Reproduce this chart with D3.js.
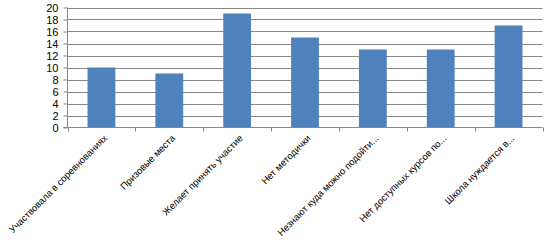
<!DOCTYPE html>
<html><head><meta charset="utf-8">
<script src="https://cdn.jsdelivr.net/npm/d3@7"></script>
<style>body{margin:0;background:#fff}svg{display:block}</style>
</head><body><svg id="c" width="553" height="240"></svg>
<script>
const categories = ["Участвовала в соревнованиях","Призовые места","Желает принять участие","Нет методички","Незнают куда можно подойти...","Нет доступных курсов по...","Школа нуждается в..."];
const values = [10, 9, 19, 15, 13, 13, 17];
const yTicks = [0,2,4,6,8,10,12,14,16,18,20];

(function(){
const svg = d3.select("#c");
const pLeft = 67.5, pRight = 542.5, pTop = 7.5, pBottom = 127.5;
const x = d3.scaleBand().domain(categories).range([pLeft, pRight]).paddingInner(0.59).paddingOuter(0.295);
const y = d3.scaleLinear().domain([0,20]).range([pBottom, pTop]);
const grid = "#878787";
const font = "'Liberation Sans', Arial, sans-serif";

svg.append("g").selectAll("line").data(yTicks.filter(d=>d>0)).join("line")
  .attr("x1", pLeft).attr("x2", pRight)
  .attr("y1", d=>Math.round(y(d))+0.5).attr("y2", d=>Math.round(y(d))+0.5)
  .attr("stroke", grid).attr("stroke-width",1);

svg.append("g").selectAll("rect").data(values).join("rect")
  .attr("x", (d,i)=>x(categories[i]))
  .attr("width", x.bandwidth())
  .attr("y", d=>y(d)).attr("height", d=>pBottom - y(d))
  .attr("fill", "#4f81bd");

const ya = svg.append("g").attr("transform", `translate(${pLeft},0)`)
  .call(d3.axisLeft(y).tickValues(yTicks).tickSize(4).tickPadding(5));
ya.selectAll("path,line").attr("stroke", grid);
ya.select(".domain").attr("d", `M0,${pTop}V${pBottom}`);
ya.selectAll("text").attr("font-family", font).attr("font-size", 11).attr("fill","#000");

const step = (pRight-pLeft)/categories.length;
const xa = svg.append("g");
xa.append("line").attr("x1", pLeft-4).attr("x2", pRight).attr("y1", pBottom).attr("y2", pBottom).attr("stroke", grid);
xa.selectAll("line.t").data(d3.range(categories.length+1)).join("line").attr("class","t")
  .attr("x1", i=>Math.round(pLeft + i*step)+0.5).attr("x2", i=>Math.round(pLeft + i*step)+0.5)
  .attr("y1", pBottom).attr("y2", pBottom+4).attr("stroke", grid);
xa.selectAll("text").data(categories).join("text")
  .attr("transform", d=>`translate(${x(d)+x.bandwidth()/2+4},${pBottom+9}) rotate(-45)`)
  .attr("text-anchor","end").attr("dy","0.35em")
  .attr("font-family", font).attr("font-size", 9.5).attr("fill","#000")
  .text(d=>d);
})();
</script></body></html>
